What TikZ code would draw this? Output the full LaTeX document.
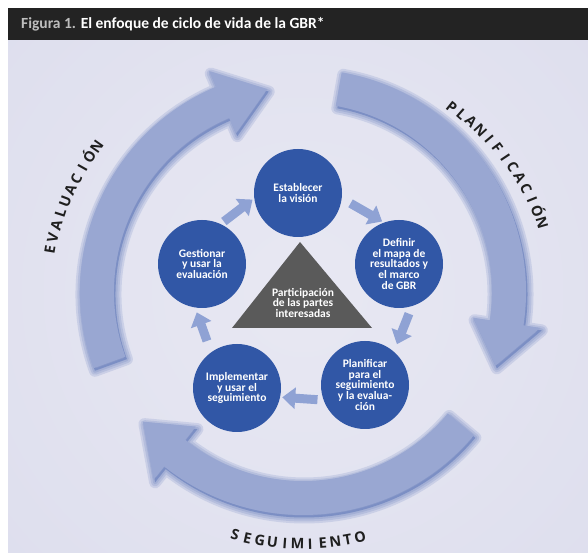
\documentclass[tikz,border=0pt]{standalone}
\usepackage{fontspec}
\setmainfont{Carlito}
\newfontfamily\ringfont{Open Sans}
\usetikzlibrary{arrows.meta}

\definecolor{barblack}{HTML}{232323}
\definecolor{figgray}{HTML}{BDBDBD}
\definecolor{bgbase}{HTML}{DBDCEC}
\definecolor{bglight}{HTML}{E8E8F3}
\definecolor{ringblue}{HTML}{99A7D2}
\definecolor{glowblue}{HTML}{3A5AAB}
\definecolor{stageblue}{HTML}{3157A6}
\definecolor{smallblue}{HTML}{8FA2D4}
\definecolor{trigray}{HTML}{5A5A5A}

% radii of the big ring arrows (shaft in/out, middle, head in/out)
\def\rin{189}\def\rout{223}\def\rmid{206}\def\hin{172}\def\hout{240}
\newcommand{\ringarrow}[3]{(#1:\rin) arc[start angle=#1, end angle=#2, radius=\rin] -- (#2:\hin) -- (#3:\rmid) -- (#2:\hout) -- (#2:\rout) arc[start angle=#2, end angle=#1, radius=\rout] -- cycle}
% letters spread along the ring: name, first/last angle, first/last radius, count, turn, letters
\newcommand{\arclabel}[8]{%
  \foreach \ch [count=\i] in {#8} {
    \pgfmathsetmacro{\ang}{#2+(#3-#2)*(\i-1)/(#6-1)}
    \pgfmathsetmacro{\rad}{#4+(#5-#4)*(\i-1)/(#6-1)}
    \pgfmathsetmacro{\rot}{\ang+#7}
    \node[ringword, rotate=\rot] (#1-\i) at (\ang:\rad) {\ch};
  }}

\begin{document}
\begin{tikzpicture}[x=1pt, y=1pt,
  stage/.style={circle, fill=stageblue, minimum size=88pt, inner sep=0pt, text=white, align=center, font=\bfseries\fontsize{11.5}{10.6}\selectfont},
  stagearrow/.style={draw=smallblue, line width=9pt, -{Triangle[width=21pt,length=13pt]}, shorten <=4pt, shorten >=2pt},
  ringword/.style={inner sep=0pt, text height=10.5pt, text depth=0pt, text=black!88, font=\ringfont\bfseries\fontsize{14.5}{14.5}\selectfont},
  glow/.style={draw=glowblue, fill=glowblue, opacity=0.14, line join=round}]
			%%%%% START %%%%%
			\useasboundingbox (0,0) rectangle (588,553);
			\fill[white] (0,0) rectangle (588,553);
			\fill[bgbase] (8,0) rectangle (588,513);
			\begin{scope}
				\clip (8,0) rectangle (588,513);
				\shade[inner color=bglight, outer color=bgbase] (303,261) circle (520);
			\end{scope}
			
			\fill[barblack] (8,513) rectangle (588,545);
			\node[anchor=west, inner sep=0pt, font=\bfseries\fontsize{15.5}{15.5}\selectfont] (title) at (21,529)
				{\textcolor{figgray}{Figura 1.} \textcolor{white}{El enfoque de ciclo de vida de la GBR*}};
			
			\begin{scope}[shift={(303,261)}]
				\foreach \w in {12pt,8pt,4pt} {
					\path[glow, line width=\w, shift={(1.5,-2.5)}] \ringarrow{200}{113}{100};
					\path[glow, line width=\w, shift={(1.5,-2.5)}] \ringarrow{80}{-8.6}{-21};
					\path[glow, line width=\w, shift={(1.5,-2.5)}] \ringarrow{-40}{-128.5}{-141};
				}
				\fill[ringblue] \ringarrow{200}{113}{100};
				\fill[ringblue] \ringarrow{80}{-8.6}{-21};
				\fill[ringblue] \ringarrow{-40}{-128.5}{-141};
				
				\arclabel{eval}{170.6}{144.9}{256.5}{252}{10}{-90}{E,V,A,L,U,A,C,I,Ó,N}
				\arclabel{plan}{51.2}{16.1}{237.5}{248.8}{13}{-90}{P,L,A,N,I,F,I,C,A,C,I,Ó,N}
				\arclabel{segu}{254.4}{283.1}{252.3}{251.5}{11}{90}{S,E,G,U,I,M,I,E,N,T,O}
			\end{scope}
			
			\node[stage] (vision) at (298,360) {Establecer\\la visión};
			\node[stage] (mapa) at (399,289) {Definir\\el mapa de\\resultados y\\el marco\\de GBR};
			\node[stage] (planif) at (365,168) {Planificar\\para el\\seguimiento\\y la evalua-\\ción};
			\node[stage] (seguim) at (237,165) {Implementar\\y usar el\\seguimiento};
			\node[stage] (gestion) at (202,289) {Gestionar\\y usar la\\evaluación};
			
			\fill[trigray] (300,311) -- (372,225) -- (232,225) -- cycle;
			\node[inner sep=0pt, align=center, text=white, font=\bfseries\fontsize{11.5}{10.6}\selectfont] (partes) at (303,250)
				{Participación\\de las partes\\interesadas};
			
			\draw[stagearrow] (gestion.65) -- (vision.187);
			\draw[stagearrow, shorten <=10pt] (vision.-7) -- (mapa.110);
			\draw[stagearrow, shorten <=8pt, shorten >=8pt] (mapa.-73) -- (planif.49);
			\draw[stagearrow, shorten <=6pt] (planif.200) -- (seguim.-12);
			\draw[stagearrow, shorten <=12pt, shorten >=5pt] (seguim.126) -- (gestion.261);
			%%%%% END %%%%%
\end{tikzpicture}
\end{document}
